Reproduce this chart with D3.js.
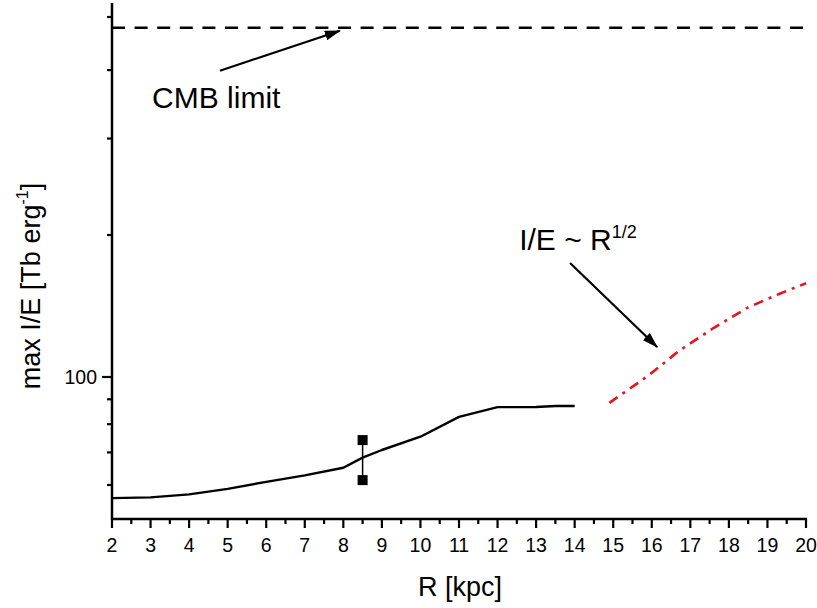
<!DOCTYPE html>
<html><head><meta charset="utf-8">
<script src="https://cdn.jsdelivr.net/npm/d3@7"></script>
<style>
body{margin:0;background:#fff}
svg{display:block}
text{font-family:"Liberation Sans",Arial,Helvetica,sans-serif;fill:#000}
</style>
</head><body>
<svg id="chart" width="817" height="608"></svg>
<script>
// ---------- data ----------
const radiusKpc = [2, 3, 4, 5, 6, 7, 8, 8.5, 9, 10, 11, 12, 13, 13.5, 14];
const maxIE     = [56.4, 56.6, 57.4, 58.9, 60.9, 62.8, 65.1, 68.3, 70.8, 75.4, 82.8, 86.7, 86.8, 87.2, 87.2];
const sqrtRadius = [14.9, 15.9, 16.7, 17.6, 18.5, 19.3, 20];
const sqrtIE     = [88.5, 100.5, 113.5, 127, 140.5, 150, 158];
const pointR  = [8.5, 8.5];
const pointIE = [74.2, 61.4];
const cmbLimit = 478;
const xTicksMajor = d3.range(2, 21, 1);
const xTicksMinor = d3.range(2.5, 20, 1);
const yTicksMajor = [100];
const yTicksMinor = [60, 70, 80, 90, 200, 300, 400, 500];
const xDomain = [2, 20];
// axis calibration (log axis, piecewise as in the scan)
const yCalib = [60, 100, 200, 500];

// ---------- layout ----------
const svg = d3.select("#chart");
const x = d3.scaleLinear().domain(xDomain).range([112, 806]);
const y = d3.scaleLog().domain(yCalib).range([485, 377, 235, 17]);
const yBottom = 519, yTop = 3;

// defs: arrowhead
svg.append("defs").append("marker")
  .attr("id", "arrow").attr("markerUnits", "userSpaceOnUse")
  .attr("viewBox", "0 0 16 10").attr("refX", 15).attr("refY", 5)
  .attr("markerWidth", 16).attr("markerHeight", 10).attr("orient", "auto")
  .append("path").attr("d", "M0,0 L16,5 L0,10 Z").attr("fill", "#000");

// axes lines
svg.append("line").attr("x1", x(2)).attr("x2", x(2)).attr("y1", yTop).attr("y2", yBottom + 1)
  .attr("stroke", "#000").attr("stroke-width", 2.5);
svg.append("line").attr("x1", x(2) - 1).attr("x2", x(20) + 1).attr("y1", yBottom).attr("y2", yBottom)
  .attr("stroke", "#000").attr("stroke-width", 2.5);

// x ticks
const gx = svg.append("g");
gx.selectAll(".xM").data(xTicksMajor).join("line")
  .attr("x1", d => x(d)).attr("x2", d => x(d)).attr("y1", yBottom).attr("y2", yBottom + 9)
  .attr("stroke", "#000").attr("stroke-width", 2.2);
gx.selectAll(".xm").data(xTicksMinor).join("line")
  .attr("x1", d => x(d)).attr("x2", d => x(d)).attr("y1", yBottom).attr("y2", yBottom + 5)
  .attr("stroke", "#000").attr("stroke-width", 2.2);
gx.selectAll(".xl").data(xTicksMajor).join("text")
  .attr("x", d => x(d)).attr("y", 552).attr("text-anchor", "middle")
  .attr("font-size", 19.5).text(d => d);

// y ticks
const gy = svg.append("g");
gy.selectAll(".yM").data(yTicksMajor).join("line")
  .attr("x1", x(2) - 10).attr("x2", x(2)).attr("y1", d => y(d)).attr("y2", d => y(d))
  .attr("stroke", "#000").attr("stroke-width", 2.2);
gy.selectAll(".ym").data(yTicksMinor).join("line")
  .attr("x1", x(2) - 5).attr("x2", x(2)).attr("y1", d => y(d)).attr("y2", d => y(d))
  .attr("stroke", "#000").attr("stroke-width", 2.2);
gy.selectAll(".yl").data(yTicksMajor).join("text")
  .attr("x", x(2) - 15).attr("y", d => y(d) + 7).attr("text-anchor", "end")
  .attr("font-size", 19.5).text(d => d);

// axis titles
svg.append("text").attr("x", 460).attr("y", 596).attr("text-anchor", "middle")
  .attr("font-size", 27).text("R [kpc]");
const yt = svg.append("text").attr("transform", "translate(40,286) rotate(-90)")
  .attr("text-anchor", "middle").attr("font-size", 27);
yt.append("tspan").text("max I/E [Tb erg");
yt.append("tspan").attr("font-size", 16).attr("dy", -12).text("-1");
yt.append("tspan").attr("dy", 12).text("]");

// CMB limit dashed line
svg.append("line").attr("x1", x(2)).attr("x2", x(20)).attr("y1", y(cmbLimit)).attr("y2", y(cmbLimit))
  .attr("stroke", "#000").attr("stroke-width", 2.6).attr("stroke-dasharray", "13,9.6");

// main curve
const line = d3.line().x(d => x(d[0])).y(d => y(d[1]));
svg.append("path").datum(d3.zip(radiusKpc, maxIE)).attr("d", line)
  .attr("fill", "none").attr("stroke", "#000").attr("stroke-width", 2.4)
  .attr("stroke-linejoin", "round");

// R^1/2 extrapolation
svg.append("path").datum(d3.zip(sqrtRadius, sqrtIE)).attr("d", line)
  .attr("fill", "none").attr("stroke", "#e8131b").attr("stroke-width", 2.6)
  .attr("stroke-dasharray", "10,6,3,6");

// measured points with bar
svg.append("line").attr("x1", x(pointR[0])).attr("x2", x(pointR[1]))
  .attr("y1", y(pointIE[0])).attr("y2", y(pointIE[1]))
  .attr("stroke", "#000").attr("stroke-width", 1.5);
svg.selectAll(".pt").data(d3.zip(pointR, pointIE)).join("rect")
  .attr("x", d => x(d[0]) - 5).attr("y", d => y(d[1]) - 5)
  .attr("width", 10).attr("height", 10).attr("fill", "#000");

// annotations
svg.append("line").attr("x1", x(4.80)).attr("y1", y(399)).attr("x2", x(7.91)).attr("y2", y(472))
  .attr("stroke", "#000").attr("stroke-width", 2.2).attr("marker-end", "url(#arrow)");
svg.append("text").attr("x", x(3.04)).attr("y", y(341)).attr("font-size", 30).text("CMB limit");

svg.append("line").attr("x1", x(13.88)).attr("y1", y(174.4)).attr("x2", x(16.14)).attr("y2", y(115.8))
  .attr("stroke", "#000").attr("stroke-width", 2.2).attr("marker-end", "url(#arrow)");
const ie = svg.append("text").attr("x", x(12.56)).attr("y", y(186)).attr("font-size", 30);
ie.append("tspan").text("I/E ~ R");
ie.append("tspan").attr("font-size", 18).attr("dy", -12).text("1/2");
</script>
</body></html>
